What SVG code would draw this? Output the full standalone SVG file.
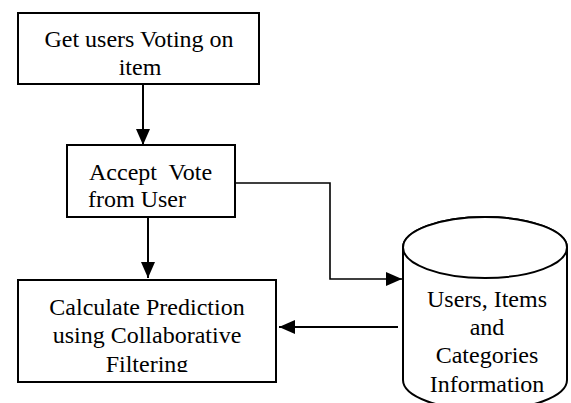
<svg xmlns="http://www.w3.org/2000/svg" width="571" height="403" viewBox="0 0 571 403">
<style>
.box{fill:#fff;stroke:#000;stroke-width:2}
.line{fill:none;stroke:#000;stroke-width:2}
</style>
<defs>
<marker id="ah" markerUnits="userSpaceOnUse" markerWidth="16" markerHeight="14" refX="16" refY="7" orient="auto">
<path d="M0,0 L16,7 L0,14 Z" fill="#000"/>
</marker>
<clipPath id="clip3"><rect x="18" y="280" width="258" height="92"/></clipPath>
</defs>
<rect width="571" height="403" fill="#fff"/>
<g id="connectors">
<line class="line" x1="143" y1="84" x2="143" y2="145" marker-end="url(#ah)"/>
<line class="line" x1="148" y1="217" x2="148" y2="278" marker-end="url(#ah)"/>
<polyline class="line" style="stroke-width:1.6" points="235,183 330,183 330,279 402,279" marker-end="url(#ah)"/>
<line class="line" x1="398" y1="327" x2="279" y2="327" marker-end="url(#ah)"/>
</g>
<g id="n1">
<rect class="box" x="18" y="13" width="241" height="71"/>
<text font-family="Liberation Serif" font-size="24" text-anchor="middle" x="139" y="47">Get users Voting on</text>
<text font-family="Liberation Serif" font-size="24" text-anchor="middle" x="140" y="75">item</text>
</g>
<g id="n2">
<rect class="box" x="67" y="145" width="168" height="72"/>
<text font-family="Liberation Serif" font-size="24" x="89" y="180" xml:space="preserve">Accept  Vote</text>
<text font-family="Liberation Serif" font-size="24" x="88" y="207">from User</text>
</g>
<g id="n3">
<rect class="box" x="18" y="280" width="258" height="102"/>
<text font-family="Liberation Serif" font-size="24" text-anchor="middle" x="147" y="315">Calculate Prediction</text>
<text font-family="Liberation Serif" font-size="24" text-anchor="middle" x="147" y="343">using Collaborative</text>
<text font-family="Liberation Serif" font-size="24" text-anchor="middle" x="147" y="372" clip-path="url(#clip3)">Filtering</text>
</g>
<g id="db">
<path class="box" d="M403,247.5 L403,380 A82,30 0 0 0 567,380 L567,247.5 A82,30.5 0 0 0 403,247.5 Z"/>
<ellipse class="box" cx="485" cy="247.5" rx="82" ry="30.5"/>
<text font-family="Liberation Serif" font-size="24" text-anchor="middle" x="487" y="307">Users, Items</text>
<text font-family="Liberation Serif" font-size="24" text-anchor="middle" x="487" y="335">and</text>
<text font-family="Liberation Serif" font-size="24" text-anchor="middle" x="487" y="363">Categories</text>
<text font-family="Liberation Serif" font-size="24" text-anchor="middle" x="487" y="392">Information</text>
</g>
</svg>
